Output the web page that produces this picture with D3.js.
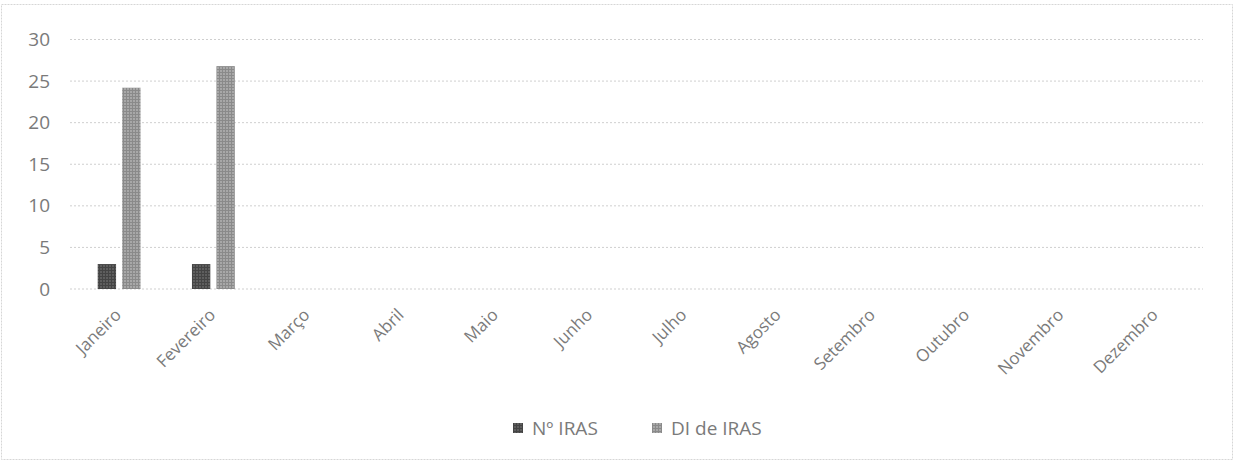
<!DOCTYPE html>
<html><head><meta charset="utf-8">
<script src="https://cdn.jsdelivr.net/npm/d3@7"></script>
<style>body{margin:0;background:#fff}svg{display:block;font-family:"Open Sans",sans-serif}</style>
</head><body><svg id="c" width="1238" height="464"></svg>
<script>
const months = ["Janeiro","Fevereiro","Março","Abril","Maio","Junho","Julho","Agosto","Setembro","Outubro","Novembro","Dezembro"];
const seriesNames = ["Nº IRAS","DI de IRAS"];
const nIras = [3,3,null,null,null,null,null,null,null,null,null,null];
const diIras = [24.2,26.8,null,null,null,null,null,null,null,null,null,null];
const yTicks = [0,5,10,15,20,25,30];

const svg = d3.select("#c");
const defs = svg.append("defs");
function pat(id, bg, fg){
  const p = defs.append("pattern").attr("id",id).attr("width",3).attr("height",3).attr("patternUnits","userSpaceOnUse");
  p.append("rect").attr("width",3).attr("height",3).attr("fill",bg);
  p.append("rect").attr("width",3).attr("height",1).attr("fill",fg);
  p.append("rect").attr("width",1).attr("height",3).attr("fill",fg);
}
pat("pDark","#5e5e5e","#444");
pat("pLight","#a8a8a8","#8a8a8a");
const fills = ["url(#pDark)","url(#pLight)"];
const txt = "#7a7a7a";

svg.append("rect").attr("x",1.5).attr("y",4.5).attr("width",1231).attr("height",455)
  .attr("fill","#fff").attr("stroke","#d6d6d6").attr("stroke-dasharray","2,1");

const m = {l:72, r:1203, t:39.5, b:289};
const x = d3.scaleBand().domain(months).range([m.l,m.r]);
const x1 = d3.scaleBand().domain(seriesNames).range([0,x.bandwidth()]).paddingInner(0.25).paddingOuter(1.05);
const y = d3.scaleLinear().domain([0,30]).range([m.b,m.t]);

const grid = svg.append("g");
grid.selectAll("line").data(yTicks).join("line")
  .attr("x1",m.l-2).attr("x2",m.r).attr("y1",d=>y(d)).attr("y2",d=>y(d))
  .attr("stroke","#cfcfcf").attr("stroke-width",1).attr("stroke-dasharray","2,2");

const yAxis = svg.append("g").attr("transform",`translate(${m.l},0)`)
  .call(d3.axisLeft(y).tickValues(yTicks).tickSize(0).tickPadding(22));
yAxis.select(".domain").remove();
yAxis.selectAll("text").attr("font-size",19).attr("fill",txt).attr("font-family","'Open Sans',sans-serif");

const data = [nIras, diIras];
seriesNames.forEach((s,i)=>{
  svg.append("g").selectAll("rect").data(months.map((mo,j)=>({mo,v:data[i][j]})).filter(d=>d.v!=null))
    .join("rect")
    .attr("x",d=>x(d.mo)+x1(s)).attr("width",x1.bandwidth())
    .attr("y",d=>y(d.v)).attr("height",d=>y(0)-y(d.v))
    .attr("fill",fills[i]);
});

const xAxis = svg.append("g").attr("transform",`translate(0,${m.b})`)
  .call(d3.axisBottom(x).tickSize(0).tickPadding(0));
xAxis.select(".domain").remove();
xAxis.selectAll("text")
  .attr("font-size",17).attr("fill",txt).attr("font-family","'Open Sans',sans-serif")
  .attr("text-anchor","end").attr("dy",0)
  .attr("transform","translate(3,27) rotate(-45)");

const leg = svg.append("g").attr("transform","translate(513,428)");
const legStarts = [0, 139];
seriesNames.forEach((s,i)=>{
  const g = leg.append("g").attr("transform",`translate(${legStarts[i]},0)`);
  g.append("rect").attr("x",0).attr("y",-5).attr("width",10).attr("height",10).attr("fill",fills[i]);
  g.append("text").attr("x",19).attr("y",7).attr("font-size",19).attr("fill",txt).text(s);
});
</script></body></html>
